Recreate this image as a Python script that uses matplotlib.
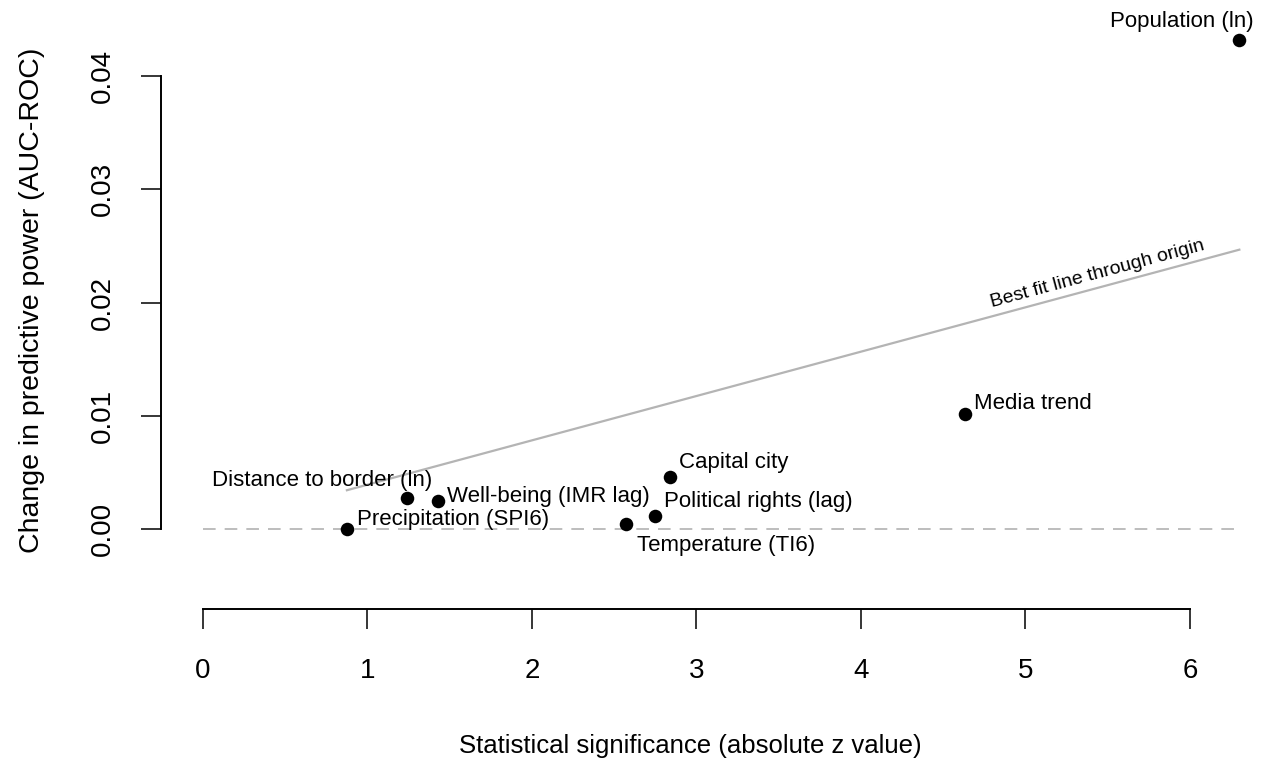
import numpy as np
from matplotlib import pyplot as plt

# change in AUC-ROC against |z| for each predictor
labels = ["Population (ln)", "Media trend", "Capital city", "Political rights (lag)",
          "Temperature (TI6)", "Well-being (IMR lag)", "Distance to border (ln)",
          "Precipitation (SPI6)"]
zval = np.array([6.30, 4.63, 2.84, 2.75, 2.57, 1.43, 1.24, 0.875])
dauc = np.array([0.0432, 0.01015, 0.00459, 0.00115, 0.00044, 0.00247, 0.00274, 0.0])

# label placement relative to the point, in pixels (dx, dy, ha, va)
offsets = [(14, 18, "right", "center"), (9, 5, "left", "baseline"),
           (9, 9, "left", "baseline"), (9, 9, "left", "baseline"),
           (11, -27, "left", "baseline"), (9, -1, "left", "baseline"),
           (25, 12, "right", "baseline"), (10, 4, "left", "baseline")]

plt.rcParams['font.family'] = ['Liberation Sans', 'DejaVu Sans']

fig = plt.figure(figsize=(12.65, 7.65), dpi=100)
ax = fig.add_axes([161/1265, 156/765, 1104/1265, 599/765])
ax.set_xlim(-0.255, 6.456)
ax.set_ylim(-0.00706, 0.04583)

# best fit line through origin
slope = np.sum(zval*dauc)/np.sum(zval**2)
xs = np.array([zval.min(), zval.max()])
ax.plot(xs, slope*xs, color="#b4b4b4", lw=1.6, zorder=1)
ax.plot([0, zval.max()], [0, 0], color="#b8b8b8", lw=1.3, ls=(0, (7, 5)), zorder=1)

ax.scatter(zval, dauc, s=95, color="black", zorder=3, linewidths=0)

for lab, x, y, (dx, dy, ha, va) in zip(labels, zval, dauc, offsets):
    ax.annotate(lab, (x, y), xytext=(dx, dy), textcoords="offset pixels",
                ha=ha, va=va, fontsize=16)

# rotated label on fit line
p1 = ax.transData.transform((0, 0))
p2 = ax.transData.transform((6, 6*slope))
ang = np.degrees(np.arctan2(p2[1]-p1[1], p2[0]-p1[0]))
ax.annotate("Best fit line through origin", (5.45, 5.45*slope), xytext=(0, 5),
            textcoords="offset pixels", ha="center", va="bottom", fontsize=14,
            rotation=ang, rotation_mode="anchor")

for s in ["top", "right"]:
    ax.spines[s].set_visible(False)
ax.spines["left"].set_bounds(0, 0.04)
ax.spines["bottom"].set_bounds(0, 6)
ax.spines["left"].set_linewidth(1.4)
ax.spines["bottom"].set_linewidth(1.4)

ax.set_xticks(range(7))
ax.set_yticks([0, 0.01, 0.02, 0.03, 0.04])
ax.set_yticklabels(["0.00", "0.01", "0.02", "0.03", "0.04"], rotation=90, va="center")
ax.tick_params(length=14.5, width=1.1, labelsize=20)
ax.tick_params(axis="x", pad=21)
ax.tick_params(axis="y", pad=18)

ax.set_xlabel("Statistical significance (absolute z value)", fontsize=18.5)
ax.set_ylabel("Change in predictive power (AUC-ROC)", fontsize=20.5)
ax.xaxis.set_label_coords(0.479, -0.208)
ax.yaxis.set_label_coords(-0.105, 0.516)

fig.savefig("out.png", dpi=100)
